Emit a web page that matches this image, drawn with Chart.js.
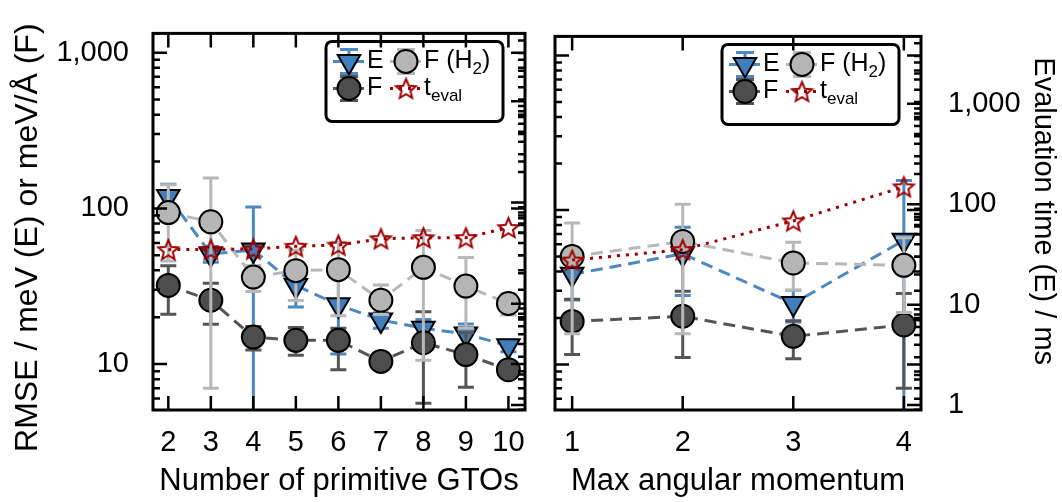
<!DOCTYPE html>
<html>
<head>
<meta charset="utf-8">
<script src="https://cdn.jsdelivr.net/npm/chart.js@4.4.0/dist/chart.umd.min.js"></script>
<style>
html, body { margin: 0; padding: 0; background: #fff; }
#wrap { position: relative; width: 1062px; height: 502px; }
#c1 { position: absolute; left: 0; top: 0; }
#c2 { position: absolute; left: 540px; top: 0; }
</style>
</head>
<body>
<div id="wrap">
  <canvas id="c1" width="540" height="502"></canvas>
  <canvas id="c2" width="522" height="502"></canvas>
</div>
<script>
// --- data: left panel (number of primitive GTOs) ---
const gtoCounts = [2, 3, 4, 5, 6, 7, 8, 9, 10];
const gtoE     = [119, 51, 54, 32, 24, 19.2, 17, 15.6, 13.1];
const gtoEHi   = [143, 57, 102, 40.7, 36.4, 21.4, 19.3, 18.1, 14.2];
const gtoELo   = [98, 45, 3, 23.3, 11.6, 17, 14.7, 13.1, 12];
const gtoF     = [32, 25.7, 14.9, 14.2, 14.2, 10.4, 13.7, 11.5, 9.2];
const gtoFHi   = [42.8, 33, 17.4, 17.2, 17.0, 11, 21.7, 15.9, 10];
const gtoFLo   = [20.9, 18, 12.3, 11.4, 9.2, 9.8, 5.6, 7.1, 8.4];
const gtoFH2   = [94, 82, 36.2, 39.8, 40.4, 25.7, 41.8, 31.7, 24.5];
const gtoFH2Hi = [142, 157, 43, 54, 60.4, 32.2, 72, 48.4, 28.3];
const gtoFH2Lo = [46, 7.0, 29.3, 25.6, 20.4, 20.8, 10.6, 17, 20.7];
const gtoTeval = [34.3, 34.5, 34.8, 37, 38, 44, 45, 45, 56.6];

// --- data: right panel (max angular momentum) ---
const lMax    = [1, 2, 3, 4];
const lE      = [38.3, 52, 24.8, 63.7];
const lEHi    = [50.5, 77.3, 30.2, 155];
const lELo    = [26.1, 27.9, 18.8, 1];
const lF      = [19.0, 20.5, 15.2, 18.0];
const lFHi    = [26.4, 29.8, 19.2, 28.8];
const lFLo    = [11.6, 11.1, 10.9, 7.0];
const lFH2    = [50, 62.5, 45.4, 43.8];
const lFH2Hi  = [82.5, 109, 61.7, 66];
const lFH2Lo  = [15.8, 15.8, 30.2, 21.7];
const lTeval  = [27.8, 35.3, 68.2, 149];

// --- axis ticks ---
const rmseTicks = [10, 100, 1000];
const rmseTickLabels = ['10', '100', '1,000'];
const timeTicks = [1, 10, 100, 1000];
const timeTickLabels = ['1', '10', '100', '1,000'];

const FONT = 'Liberation Sans, Arial, sans-serif';
const rmseRange = [5.07, 1330];
const timeRange = [0.894, 4690];

function starCanvas(r, stroke) {
    const s = Math.ceil(2 * r + 6);
    const c = document.createElement('canvas');
    c.width = s; c.height = s;
    const g = c.getContext('2d');
    g.beginPath();
    for (let k = 0; k < 10; k++) {
        const rr = k % 2 ? r * 0.45 : r;
        const a = -Math.PI / 2 + k * Math.PI / 5;
        g.lineTo(s / 2 + rr * Math.cos(a), s / 2 + 1 + rr * Math.sin(a));
    }
    g.closePath();
    g.lineWidth = 2;
    g.lineJoin = 'miter';
    g.strokeStyle = stroke;
    g.stroke();
    return c;
}
const star = starCanvas(10.5, '#a00000');

const styles = {
    E:   { line: '#4a89c2', fill: '#3f7fbd', shape: 'triangle', rot: 180, r: 13, dash: [12, 7], order: 3 },
    F:   { line: '#555555', fill: '#4d4d4d', shape: 'circle', rot: 0, r: 11.5, dash: [12, 7], order: 2 },
    FH2: { line: '#b8b8b8', fill: '#b5b5b5', shape: 'circle', rot: 0, r: 11.5, dash: [12, 7], order: 1 },
    T:   { line: '#a00000', fill: 'rgba(0,0,0,0)', shape: star, rot: 0, r: 10, dash: [3, 6], order: 0 }
};

function series(label, xs, ys, lo, hi, st, axis) {
    return {
        label: label,
        yAxisID: axis,
        data: xs.map((x, i) => ({ x: x, y: ys[i] })),
        errLo: lo, errHi: hi, errColor: st.line,
        borderColor: st.line,
        borderWidth: 3,
        borderDash: st.dash,
        borderCapStyle: 'butt',
        pointStyle: st.shape,
        pointRotation: st.rot,
        pointRadius: st.r,
        pointBackgroundColor: st.fill,
        pointBorderColor: '#000',
        pointBorderWidth: 2,
        fill: false,
        tension: 0,
        order: st.order
    };
}

// legend text pieces (main, subscript, tail)
const legendText = [['E', '', ''], ['F', '', ''], ['F (H', '2', ')'], ['t', 'eval', '']];

function logTicks(min, max) {
    const out = [];
    for (let d = Math.floor(Math.log10(min)); d <= Math.ceil(Math.log10(max)); d++) {
        for (let m = 1; m <= 9; m++) {
            const v = m * Math.pow(10, d);
            if (v >= min && v <= max) out.push({ value: v, major: m === 1 });
        }
    }
    return out;
}

const errorBars = {
    id: 'errorBars',
    beforeDatasetDraw(chart, args) {
        const ds = chart.data.datasets[args.index];
        if (!ds.errLo) return;
        const meta = args.meta;
        const ys = chart.scales[meta.yAxisID];
        const ca = chart.chartArea;
        const ctx = chart.ctx;
        ctx.save();
        ctx.beginPath();
        ctx.rect(ca.left, ca.top, ca.width, ca.height);
        ctx.clip();
        ctx.strokeStyle = ds.errColor;
        ctx.lineWidth = 3;
        meta.data.forEach((pt, i) => {
            const y1 = ys.getPixelForValue(ds.errLo[i]);
            const y2 = ys.getPixelForValue(ds.errHi[i]);
            ctx.beginPath();
            ctx.moveTo(pt.x, y1); ctx.lineTo(pt.x, y2);
            ctx.moveTo(pt.x - 8, y1); ctx.lineTo(pt.x + 8, y1);
            ctx.moveTo(pt.x - 8, y2); ctx.lineTo(pt.x + 8, y2);
            ctx.stroke();
        });
        ctx.restore();
    }
};

function drawMarker(ctx, ds, x, y) {
    const st = ds.pointStyle;
    if (typeof st !== 'string') {
        ctx.drawImage(st, x - st.width / 2, y - st.height / 2);
        return;
    }
    ctx.beginPath();
    if (st === 'circle') {
        ctx.arc(x, y, ds.pointRadius, 0, Math.PI * 2);
    } else {
        const r = ds.pointRadius;
        ctx.moveTo(x, y + r);
        ctx.lineTo(x - r * 0.866, y - r / 2);
        ctx.lineTo(x + r * 0.866, y - r / 2);
        ctx.closePath();
    }
    ctx.fillStyle = ds.pointBackgroundColor;
    ctx.fill();
    ctx.lineWidth = 2;
    ctx.strokeStyle = '#000';
    ctx.stroke();
}

const boxLegend = {
    id: 'boxLegend',
    afterDatasetsDraw(chart) {
        const ctx = chart.ctx, ca = chart.chartArea;
        const bw = 177, bh = 80;
        const bx = ca.right - 22 - bw, by = ca.top + 8;
        ctx.save();
        ctx.beginPath();
        ctx.roundRect(bx, by, bw, bh, 6);
        ctx.fillStyle = '#fff';
        ctx.fill();
        ctx.lineWidth = 3;
        ctx.strokeStyle = '#000';
        ctx.stroke();
        chart.data.datasets.forEach((ds, i) => {
            const col = Math.floor(i / 2), row = i % 2;
            const mx = bx + 23 + col * 57, my = by + 20 + row * 27;
            ctx.lineWidth = 3;
            ctx.lineCap = 'butt';
            ctx.strokeStyle = ds.borderColor;
            ctx.setLineDash(ds.borderDash);
            ctx.beginPath();
            ctx.moveTo(mx - 16, my); ctx.lineTo(mx + 16, my);
            ctx.stroke();
            ctx.setLineDash([]);
            if (ds.errLo) {
                ctx.strokeStyle = ds.errColor;
                ctx.beginPath();
                ctx.moveTo(mx, my - 12); ctx.lineTo(mx, my + 12);
                ctx.moveTo(mx - 9, my - 12); ctx.lineTo(mx + 9, my - 12);
                ctx.moveTo(mx - 9, my + 12); ctx.lineTo(mx + 9, my + 12);
                ctx.stroke();
            }
            drawMarker(ctx, ds, mx, my);
            const [main, sub, tail] = legendText[i];
            let tx = mx + 18;
            ctx.fillStyle = '#000';
            ctx.textBaseline = 'middle';
            ctx.textAlign = 'left';
            ctx.font = '25px ' + FONT;
            ctx.fillText(main, tx, my);
            tx += ctx.measureText(main).width;
            if (sub) {
                ctx.font = '17px ' + FONT;
                ctx.fillText(sub, tx, my + 8);
                tx += ctx.measureText(sub).width;
            }
            if (tail) {
                ctx.font = '25px ' + FONT;
                ctx.fillText(tail, tx, my);
            }
        });
        ctx.restore();
    }
};

const frame = {
    id: 'frame',
    afterDraw(chart) {
        const ctx = chart.ctx, ca = chart.chartArea;
        const xs = chart.scales.x;
        ctx.save();
        ctx.strokeStyle = '#000';
        ctx.lineWidth = 2.5;
        ctx.beginPath();
        xs.ticks.forEach(t => {
            const px = xs.getPixelForValue(t.value);
            ctx.moveTo(px, ca.bottom); ctx.lineTo(px, ca.bottom - 14);
            ctx.moveTo(px, ca.top); ctx.lineTo(px, ca.top + 14);
        });
        const side = (scale, left, right) => {
            logTicks(scale.min, scale.max).forEach(t => {
                const py = scale.getPixelForValue(t.value);
                const len = t.major ? 14 : 7;
                if (left) { ctx.moveTo(ca.left, py); ctx.lineTo(ca.left + len, py); }
                if (right) { ctx.moveTo(ca.right, py); ctx.lineTo(ca.right - len, py); }
            });
        };
        side(chart.scales.y, true, true);
        side(chart.scales.y2, false, true);
        ctx.stroke();
        ctx.lineWidth = 3;
        ctx.strokeRect(ca.left, ca.top, ca.width, ca.height);
        ctx.restore();
    }
};

// vertical axis titles, drawn without the width limit of the scale title
const sideTitle = {
    id: 'sideTitle',
    afterDraw(chart, args, opts) {
        if (!opts.text) return;
        const ctx = chart.ctx, ca = chart.chartArea;
        ctx.save();
        ctx.font = opts.size + 'px ' + FONT;
        ctx.fillStyle = '#000';
        ctx.textAlign = 'center';
        ctx.textBaseline = 'middle';
        ctx.translate(opts.x, (ca.top + ca.bottom) / 2 + opts.shift);
        ctx.rotate(opts.rot);
        ctx.fillText(opts.text, 0, 0);
        ctx.restore();
    }
};

function tickList(values) {
    return s => { s.ticks = values.map(v => ({ value: v })); };
}
function tickLabel(values, labels) {
    return v => { const i = values.indexOf(v); return i < 0 ? '' : labels[i]; };
}
function fixWidth(w) {
    return s => { s.width = s.options.display ? w : 0; };
}

function xScale(cats, min, max, title) {
    return {
        type: 'linear', position: 'bottom', min: min, max: max,
        afterBuildTicks: tickList(cats),
        afterFit: s => { s.height = 92; },
        grid: { display: false }, border: { display: false },
        ticks: { color: '#000', font: { family: FONT, size: 29 }, padding: 8, maxRotation: 0, autoSkip: false,
                 callback: v => String(v) },
        title: { display: true, text: title, color: '#000', font: { family: FONT, size: 31 }, padding: { top: 0, bottom: 2 } }
    };
}

function makeChart(id, cats, xMin, xMax, xTitle, sets, leftVisible, rightVisible, padding, vTitle) {
    return new Chart(document.getElementById(id), {
        type: 'line',
        data: { datasets: sets },
        options: {
            responsive: false,
            animation: false,
            events: [],
            layout: { padding: padding },
            plugins: { legend: { display: false }, tooltip: { enabled: false }, sideTitle: vTitle },
            scales: {
                x: xScale(cats, xMin, xMax, xTitle),
                y: {
                    type: 'logarithmic', position: 'left', display: leftVisible,
                    min: rmseRange[0], max: rmseRange[1],
                    afterBuildTicks: tickList(rmseTicks),
                    afterFit: fixWidth(153),
                    grid: { display: false }, border: { display: false },
                    ticks: { color: '#000', font: { family: FONT, size: 29 }, padding: 16, autoSkip: false,
                             callback: tickLabel(rmseTicks, rmseTickLabels) }
                },
                y2: {
                    type: 'logarithmic', position: 'right', display: rightVisible,
                    min: timeRange[0], max: timeRange[1],
                    afterBuildTicks: tickList(timeTicks),
                    afterFit: fixWidth(141),
                    grid: { display: false }, border: { display: false },
                    ticks: { color: '#000', font: { family: FONT, size: 29 }, padding: 19, autoSkip: false,
                             callback: tickLabel(timeTicks, timeTickLabels) }
                }
            }
        },
        plugins: [errorBars, boxLegend, frame, sideTitle]
    });
}

makeChart('c1', gtoCounts, 1.64, 10.39, 'Number of primitive GTOs', [
    series('E', gtoCounts, gtoE, gtoELo, gtoEHi, styles.E, 'y'),
    series('F', gtoCounts, gtoF, gtoFLo, gtoFHi, styles.F, 'y'),
    series('F (H2)', gtoCounts, gtoFH2, gtoFH2Lo, gtoFH2Hi, styles.FH2, 'y'),
    series('t_eval', gtoCounts, gtoTeval, null, null, styles.T, 'y2')
], true, false, { top: 28, right: 14, left: 0, bottom: 0 },
{ text: 'RMSE / meV (E) or meV/Å (F)', size: 32, x: 28, shift: 16, rot: -Math.PI / 2 });

makeChart('c2', lMax, 0.845, 4.155, 'Max angular momentum', [
    series('E', lMax, lE, lELo, lEHi, styles.E, 'y'),
    series('F', lMax, lF, lFLo, lFHi, styles.F, 'y'),
    series('F (H2)', lMax, lFH2, lFH2Lo, lFH2Hi, styles.FH2, 'y'),
    series('t_eval', lMax, lTeval, null, null, styles.T, 'y2')
], false, true, { top: 28, right: 0, left: 4, bottom: 0 },
{ text: 'Evaluation time (E) / ms', size: 29, x: 503, shift: -12, rot: Math.PI / 2 });
</script>
</body>
</html>
